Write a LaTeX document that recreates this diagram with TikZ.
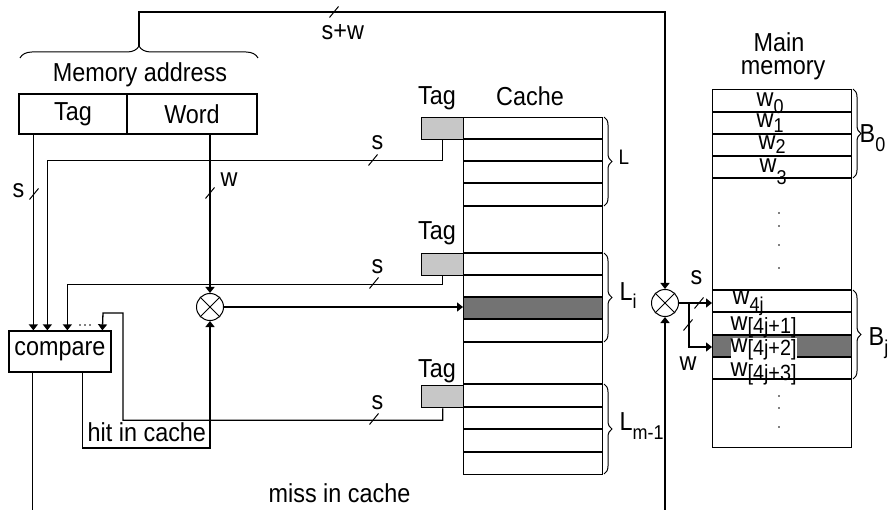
\documentclass[tikz,border=0pt]{standalone}
\usepackage{fontspec}
\setmainfont[FakeStretch=0.9]{Liberation Sans}
\usetikzlibrary{arrows.meta,decorations.pathreplacing,calc}
\newcommand{\fsz}{\fontsize{26}{28}\selectfont}
\newcommand{\sbz}{\fontsize{20}{20}\selectfont}
\newcommand{\sbzb}{\fontsize{22}{22}\selectfont}
\begin{document}
\begin{tikzpicture}[x=1pt,y=-1pt,line width=1.3pt,
  every node/.style={font=\fsz, inner sep=0pt},
  arr/.style={-{Triangle[length=6pt,width=9pt]}},
  mux/.style={draw, circle, minimum size=27pt, inner sep=0pt, line width=1pt},
  tagbox/.style={draw, fill=black!22, minimum width=42pt, minimum height=22pt, anchor=north west},
  vbrace/.style={decorate, decoration={brace, amplitude=8pt}, line width=1pt},
  slashmark/.pic={\draw[line width=1pt] (-4.5,5.5) -- (4.5,-5.5);}
]
\useasboundingbox (0,0) rectangle (893,510);
\coordinate (topy) at (0,12);
\coordinate (bot) at (0,515);

% memory address
\draw[decorate, decoration={brace, amplitude=12pt}, line width=1pt] (20,58) -- (258,58);
\coordinate (btip) at (139,46);
\node[anchor=base] at (140,82) {Memory address};
\node[draw, minimum width=108pt, minimum height=40pt] (tagf) at (73,114) {Tag};
\node[draw, minimum width=130pt, minimum height=40pt] (wordf) at (192,114) {Word};

% compare
\node[draw, minimum width=102pt, minimum height=41pt] (cmp) at (60,351.5) {compare};
\foreach \x in {80,85,90} \fill (\x,325) circle (0.8);

% multiplexers
\node[mux] (m1) at (210,307) {};
\draw[line width=1pt] (m1.north west) -- (m1.south east) (m1.north east) -- (m1.south west);
\node[mux] (m2) at (665,303) {};
\draw[line width=1pt] (m2.north west) -- (m2.south east) (m2.north east) -- (m2.south west);

% cache
\fill[black!55] (463,297) rectangle (602,319);
\node[draw, anchor=north west, minimum width=139pt, minimum height=357pt] (cache) at (463,117) {};
\foreach \y in {139,161,183,206,253,275,297,319,342,384,407,429,452}
  \draw (463,\y) -- (602,\y);
\node[tagbox] (t1) at (421,117) {};
\node[tagbox] (t2) at (421,253) {};
\node[tagbox] (t3) at (421,385) {};
\node[anchor=base] at (437,105) {Tag};
\node[anchor=base] at (437,240) {Tag};
\node[anchor=base] at (437,377) {Tag};
\node[anchor=base] at (530,106) {Cache};
\draw[vbrace] (604,117) -- (604,206);
\draw[vbrace] (604,253) -- (604,342);
\draw[vbrace] (604,384) -- (604,474);
\node[anchor=base west, font=\fontsize{21}{21}\selectfont] at (618,165) {L};
\node[anchor=base west] at (619,300) {L\raisebox{-9pt}{\sbz i}};
\node[anchor=base west] at (619,430) {L\raisebox{-9pt}{\sbz m-1}};

% main memory
\node[anchor=base] at (779,52) {Main};
\node[anchor=base] at (783,75) {memory};
\fill[black!55] (712,335) rectangle (851,357);
\node[draw, anchor=north west, minimum width=139pt, minimum height=358pt] (mem) at (712,89) {};
\foreach \y in {112,134,156,178,290,312,335,357,379}
  \draw (712,\y) -- (851,\y);
\draw[vbrace] (853,89) -- (853,178);
\draw[vbrace] (853,290) -- (853,379);
\node[anchor=base west] at (859,143) {B\raisebox{-9pt}{\sbz 0}};
\node[anchor=base west] at (868,345) {B\raisebox{-9pt}{\sbz j}};
\node[anchor=base west] at (756,107) {w\raisebox{-7pt}{\sbz 0}};
\node[anchor=base west] at (756,128) {w\raisebox{-5pt}{\sbz 1}};
\node[anchor=base west] at (758,150) {w\raisebox{-4pt}{\sbz 2}};
\node[anchor=base west] at (759,173) {w\raisebox{-12pt}{\sbz 3}};
\node[anchor=base west] at (732,305) {w\raisebox{-7pt}{\sbz 4j}};
\node[anchor=base west] at (730,330) {w\raisebox{-3pt}{\sbzb [4j+1]}};
\node[anchor=base west, fill=white] at (730,352) {w\raisebox{-3pt}{\sbzb [4j+2]}};
\node[anchor=base west] at (730,376) {w\raisebox{-4pt}{\sbzb [4j+3]}};
\foreach \y in {213,226,245,268,396,408,427} \fill (779,\y) circle (0.9);

% connectors
\draw[arr] (btip) |- (m2.north |- topy) -- (m2.north);
\pic at (334,12) {slashmark};
\node[anchor=base west] at (321,40) {s+w};

\draw[arr] ($(tagf.south west)+(15,0)$) -- ($(cmp.north west)+(25,0)$);
\pic at (34,194) {slashmark};
\node[anchor=base west] at (12,198) {s};

\draw[arr] (wordf.south -| m1) -- (m1.north);
\pic at (210,193) {slashmark};
\node[anchor=base west] at (220,187) {w};

\draw[arr] (t1.south) -- ++(0,20) -| ($(cmp.north west)+(39,0)$);
\pic at (373,160) {slashmark};
\node[anchor=base west] at (371,150) {s};

\draw[arr] (t2.south) -- ++(0,8) -| ($(cmp.north west)+(59,0)$);
\pic at (374,283) {slashmark};
\node[anchor=base west] at (371,273) {s};

\coordinate (c3) at (123,313);
\coordinate (c4) at (103,313);
\draw[arr] (t3.south) -- ++(0,12) -| (c3) -- (c4) -- ($(cmp.north west)+(94,0)$);
\pic at (374,419) {slashmark};
\node[anchor=base west] at (371,409) {s};

\draw[arr] (m1.east) -- (m1.east -| cache.west);

\draw[arr] ($(cmp.south west)+(74,0)$) |- ($(m1.south)+(0,127)$) -- (m1.south);
\node[anchor=base west] at (87,441) {hit in cache};

\coordinate (missS) at ($(cmp.south west)+(24,0)$);
\draw (missS) -- (missS |- bot);
\draw[arr] (m2.south |- bot) -- (m2.south);
\node[anchor=base west] at (268,502) {miss in cache};

\draw[arr] (m2.east) -- (m2.east -| mem.west);
\pic at (699,303) {slashmark};
\node[anchor=base west] at (690,285) {s};
\coordinate (br) at ($(m2.east)+(10,0)$);
\coordinate (r2) at (712,347);
\draw[arr] (br) |- (r2);
\pic at (688,325) {slashmark};
\node[anchor=base west] at (679,370) {w};
\end{tikzpicture}
\end{document}
